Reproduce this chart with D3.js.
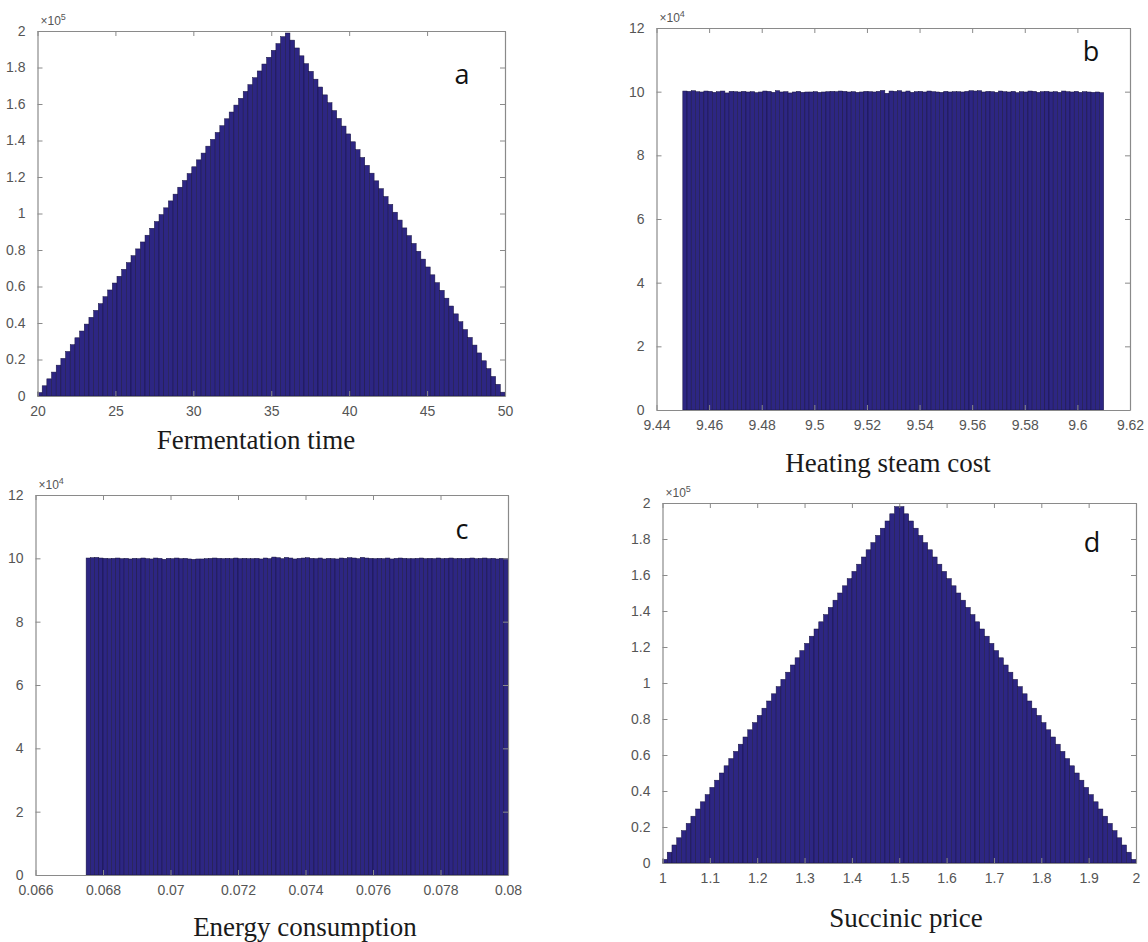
<!DOCTYPE html>
<html>
<head>
<meta charset="utf-8">
<script src="https://cdn.jsdelivr.net/npm/d3@7"></script>
<style>
  html, body { margin: 0; padding: 0; background: #ffffff; }
  svg { display: block; }
</style>
</head>
<body>
<svg id="chart" width="1148" height="942"></svg>
<script>
// ---------------- DATA (counts in thousands) ----------------
// Panel a: Fermentation time, 100 bins from 20 to 50
const binRangeA = [20, 50];
const countsA = [
  1.9, 5.6, 9.4, 13.1, 16.9, 20.6, 24.4, 28.1, 31.9, 35.6,
  39.4, 43.1, 46.9, 50.6, 54.4, 58.1, 61.9, 65.6, 69.4, 73.1,
  76.9, 80.6, 84.4, 88.1, 91.9, 95.6, 99.4, 103.1, 106.9, 110.6,
  114.4, 118.1, 121.9, 125.6, 129.4, 133.1, 136.9, 140.6, 144.4, 148.1,
  151.9, 155.6, 159.4, 163.1, 166.9, 170.6, 174.4, 178.1, 181.9, 185.6,
  189.4, 193.1, 196.9, 198.9, 195.0, 190.7, 186.4, 182.1, 177.9, 173.6,
  169.3, 165.0, 160.7, 156.4, 152.1, 147.9, 143.6, 139.3, 135.0, 130.7,
  126.4, 122.1, 117.9, 113.6, 109.3, 105.0, 100.7, 96.4, 92.1, 87.9,
  83.6, 79.3, 75.0, 70.7, 66.4, 62.1, 57.9, 53.6, 49.3, 45.0,
  40.7, 36.4, 32.1, 27.9, 23.6, 19.3, 15.0, 10.7, 6.4, 2.1
];
const xTicksA = [20, 25, 30, 35, 40, 45, 50];
const xTickLabelsA = ["20", "25", "30", "35", "40", "45", "50"];
const yTicksA = [0, 20, 40, 60, 80, 100, 120, 140, 160, 180, 200];
const yTickLabelsA = ["0", "0.2", "0.4", "0.6", "0.8", "1", "1.2", "1.4", "1.6", "1.8", "2"];

// Panel b: Heating steam cost, 100 bins from 9.45 to 9.61
const binRangeB = [9.45, 9.61];
const countsB = [
  100.2, 100.1, 100.3, 100.0, 99.9, 100.2, 100.1, 99.8, 100.0, 100.2,
  99.6, 100.1, 100.0, 99.9, 100.1, 99.9, 100.0, 99.7, 99.9, 100.2,
  100.1, 99.8, 100.3, 99.9, 100.0, 99.6, 99.9, 100.1, 99.8, 99.9,
  99.9, 100.0, 99.8, 99.9, 100.0, 100.1, 100.0, 100.2, 100.1, 99.9,
  100.0, 99.8, 99.9, 100.1, 100.0, 99.9, 100.1, 100.4, 99.5, 100.2,
  100.1, 100.3, 99.9, 100.2, 99.8, 100.0, 100.1, 99.9, 100.2, 100.0,
  99.9, 99.8, 100.1, 99.9, 100.0, 100.0, 99.9, 100.1, 100.3, 100.2,
  100.3, 99.9, 100.1, 100.0, 99.8, 100.2, 100.0, 99.9, 100.1, 99.7,
  100.0, 99.9, 100.2, 100.1, 99.8, 100.0, 100.1, 99.9, 100.0, 99.8,
  100.2, 100.0, 99.9, 100.1, 99.8, 100.0, 99.9, 99.8, 99.9, 99.7
];
const xTicksB = [9.44, 9.46, 9.48, 9.50, 9.52, 9.54, 9.56, 9.58, 9.60, 9.62];
const xTickLabelsB = ["9.44", "9.46", "9.48", "9.5", "9.52", "9.54", "9.56", "9.58", "9.6", "9.62"];
const yTicksB = [0, 20, 40, 60, 80, 100, 120];
const yTickLabelsB = ["0", "2", "4", "6", "8", "10", "12"];

// Panel c: Energy consumption, 100 bins from 0.0675 to 0.08
const binRangeC = [0.0675, 0.08];
const countsC = [
  100.1, 100.2, 100.3, 100.1, 100.0, 99.9, 100.0, 100.1, 99.9, 100.0,
  99.8, 100.0, 99.9, 100.1, 99.9, 99.8, 100.1, 100.0, 99.7, 100.0,
  99.9, 100.1, 99.9, 100.0, 99.8, 99.7, 99.8, 99.8, 99.9, 100.0,
  100.1, 100.0, 99.9, 100.0, 99.9, 100.1, 99.9, 100.0, 99.9, 99.9,
  100.0, 99.8, 100.1, 99.9, 100.4, 100.2, 99.9, 100.3, 100.1, 99.8,
  100.0, 100.1, 100.2, 100.0, 99.9, 100.1, 99.8, 100.0, 99.9, 99.8,
  100.1, 100.0, 100.2, 100.1, 99.9, 100.3, 100.1, 100.0, 99.9, 100.0,
  99.9, 100.1, 99.8, 100.0, 100.1, 100.0, 99.9, 99.9, 100.0, 100.1,
  99.9, 100.0, 99.9, 100.1, 99.9, 100.0, 100.1, 99.9, 100.0, 99.9,
  100.0, 100.1, 99.9, 100.0, 100.1, 99.9, 100.0, 99.8, 100.0, 99.9
];
const xTicksC = [0.066, 0.068, 0.070, 0.072, 0.074, 0.076, 0.078, 0.080];
const xTickLabelsC = ["0.066", "0.068", "0.07", "0.072", "0.074", "0.076", "0.078", "0.08"];
const yTicksC = [0, 20, 40, 60, 80, 100, 120];
const yTickLabelsC = ["0", "2", "4", "6", "8", "10", "12"];

// Panel d: Succinic price, 100 bins from 1 to 2
const binRangeD = [1, 2];
const countsD = [
  2, 6, 10, 14, 18, 22, 26, 30, 34, 38,
  42, 46, 50, 54, 58, 62, 66, 70, 74, 78,
  82, 86, 90, 94, 98, 102, 106, 110, 114, 118,
  122, 126, 130, 134, 138, 142, 146, 150, 154, 158,
  162, 166, 170, 174, 178, 182, 186, 190, 194, 198,
  198, 194, 190, 186, 182, 178, 174, 170, 166, 162,
  158, 154, 150, 146, 142, 138, 134, 130, 126, 122,
  118, 114, 110, 106, 102, 98, 94, 90, 86, 82,
  78, 74, 70, 66, 62, 58, 54, 50, 46, 42,
  38, 34, 30, 26, 22, 18, 14, 10, 6, 2
];
const xTicksD = [1, 1.1, 1.2, 1.3, 1.4, 1.5, 1.6, 1.7, 1.8, 1.9, 2];
const xTickLabelsD = ["1", "1.1", "1.2", "1.3", "1.4", "1.5", "1.6", "1.7", "1.8", "1.9", "2"];
const yTicksD = [0, 20, 40, 60, 80, 100, 120, 140, 160, 180, 200];
const yTickLabelsD = ["0", "0.2", "0.4", "0.6", "0.8", "1", "1.2", "1.4", "1.6", "1.8", "2"];

const panelLetters = ["a", "b", "c", "d"];
const xLabels = ["Fermentation time", "Heating steam cost", "Energy consumption", "Succinic price"];
const exponents = ["5", "4", "4", "5"];

// ---------------- LAYOUT ----------------
const panels = [
  { letter: panelLetters[0], xlabel: xLabels[0], exp: exponents[0],
    counts: countsA, bins: binRangeA, xDomain: [20, 50], yDomain: [0, 200],
    xTicks: xTicksA, xTickLabels: xTickLabelsA, yTicks: yTicksA, yTickLabels: yTickLabelsA,
    box: { l: 37.5, r: 505, t: 31, b: 396 }, letterPos: [462, 84], xlabelPos: [256, 449] },
  { letter: panelLetters[1], xlabel: xLabels[1], exp: exponents[1],
    counts: countsB, bins: binRangeB, xDomain: [9.44, 9.62], yDomain: [0, 120],
    xTicks: xTicksB, xTickLabels: xTickLabelsB, yTicks: yTicksB, yTickLabels: yTickLabelsB,
    box: { l: 656.5, r: 1130, t: 28, b: 410 }, letterPos: [1091, 61], xlabelPos: [888, 472] },
  { letter: panelLetters[2], xlabel: xLabels[2], exp: exponents[2],
    counts: countsC, bins: binRangeC, xDomain: [0.066, 0.08], yDomain: [0, 120],
    xTicks: xTicksC, xTickLabels: xTickLabelsC, yTicks: yTicksC, yTickLabels: yTickLabelsC,
    box: { l: 35.5, r: 508, t: 495, b: 875 }, letterPos: [462, 539], xlabelPos: [305, 936] },
  { letter: panelLetters[3], xlabel: xLabels[3], exp: exponents[3],
    counts: countsD, bins: binRangeD, xDomain: [1, 2], yDomain: [0, 200],
    xTicks: xTicksD, xTickLabels: xTickLabelsD, yTicks: yTicksD, yTickLabels: yTickLabelsD,
    box: { l: 662.5, r: 1136, t: 503, b: 863 }, letterPos: [1092, 552], xlabelPos: [906, 927] }
];

const svg = d3.select("#chart");
const axisColor = "#8a8a8a";
const tickTextColor = "#555555";
const barFill = "#2d2683";
const barStroke = "#17123f";
const tickLen = 5;

panels.forEach(p => {
  const g = svg.append("g");
  const x = d3.scaleLinear().domain(p.xDomain).range([p.box.l, p.box.r]);
  const y = d3.scaleLinear().domain(p.yDomain).range([p.box.b, p.box.t]);
  const n = p.counts.length;
  const w = (p.bins[1] - p.bins[0]) / n;
  const bars = p.counts.map((v, i) => ({ x0: p.bins[0] + i * w, x1: p.bins[0] + (i + 1) * w, v }));

  // bars
  g.append("g").selectAll("rect").data(bars).join("rect")
    .attr("x", d => x(d.x0))
    .attr("width", d => x(d.x1) - x(d.x0))
    .attr("y", d => y(d.v))
    .attr("height", d => y(0) - y(d.v))
    .attr("fill", barFill)
    .attr("stroke", barStroke)
    .attr("stroke-width", 0.5);

  // axes: bottom (labels), top, left (labels), right
  const xb = d3.axisBottom(x).tickValues(p.xTicks).tickSizeInner(-tickLen).tickSizeOuter(0)
    .tickPadding(10).tickFormat((d, i) => p.xTickLabels[i]);
  const xt = d3.axisTop(x).tickValues(p.xTicks).tickSizeInner(-tickLen).tickSizeOuter(0).tickFormat("");
  const yl = d3.axisLeft(y).tickValues(p.yTicks).tickSizeInner(-tickLen).tickSizeOuter(0)
    .tickPadding(12).tickFormat((d, i) => p.yTickLabels[i]);
  const yr = d3.axisRight(y).tickValues(p.yTicks).tickSizeInner(-tickLen).tickSizeOuter(0).tickFormat("");

  const styleAxis = sel => {
    sel.selectAll("path").attr("stroke", axisColor).attr("stroke-width", 1.2);
    sel.selectAll("line").attr("stroke", axisColor).attr("stroke-width", 1);
    sel.selectAll("text").attr("fill", tickTextColor)
      .style("font-family", "'Liberation Sans', Arial, sans-serif").style("font-size", "14px");
  };
  g.append("g").attr("transform", `translate(0,${p.box.b})`).call(xb).call(styleAxis);
  g.append("g").attr("transform", `translate(0,${p.box.t})`).call(xt).call(styleAxis);
  g.append("g").attr("transform", `translate(${p.box.l},0)`).call(yl).call(styleAxis);
  g.append("g").attr("transform", `translate(${p.box.r},0)`).call(yr).call(styleAxis);

  // exponent label
  const et = g.append("text")
    .attr("x", p.box.l + 3).attr("y", p.box.t - 6)
    .attr("fill", tickTextColor)
    .style("font-family", "'Liberation Sans', Arial, sans-serif").style("font-size", "12px");
  et.append("tspan").text("\u00d710");
  et.append("tspan").attr("dy", -5).style("font-size", "9px").text(p.exp);

  // panel letter
  g.append("text")
    .attr("x", p.letterPos[0]).attr("y", p.letterPos[1])
    .attr("text-anchor", "middle")
    .attr("fill", "#111")
    .style("font-family", "'Open Sans', 'Liberation Sans', sans-serif").style("font-size", "27px")
    .text(p.letter);

  // x label
  g.append("text")
    .attr("x", p.xlabelPos[0]).attr("y", p.xlabelPos[1])
    .attr("text-anchor", "middle")
    .attr("fill", "#1a1a1a")
    .style("font-family", "'Liberation Serif', 'Times New Roman', serif").style("font-size", "27px")
    .text(p.xlabel);
});
</script>
</body>
</html>
